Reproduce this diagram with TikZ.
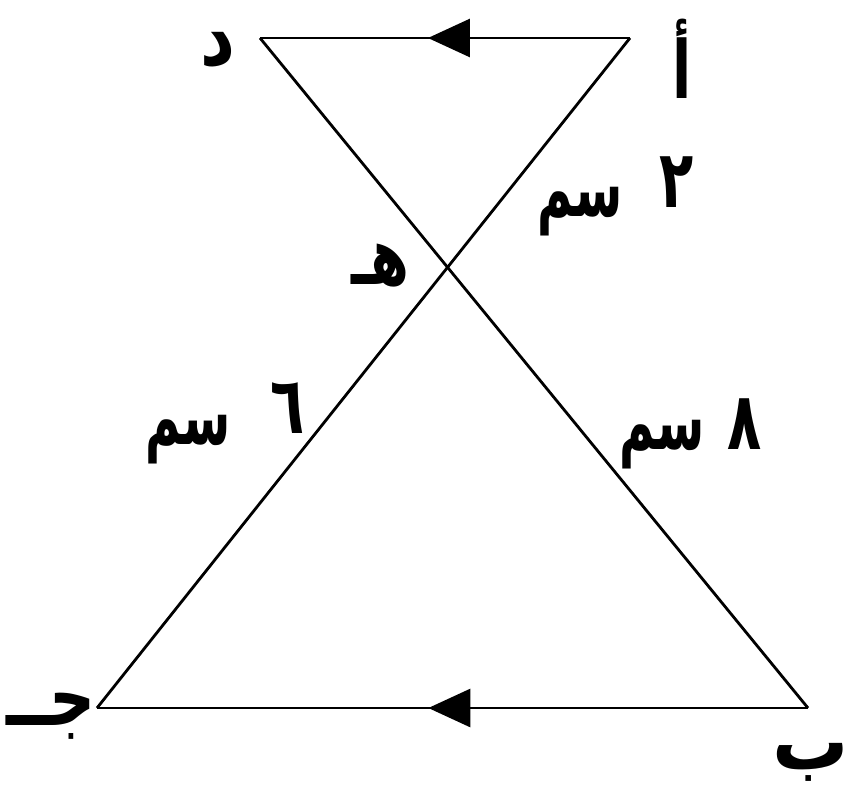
\documentclass[tikz,border=0pt]{standalone}
\usepackage{fontspec}
\usepackage{graphicx}
\TeXXeTstate=1
\newfontfamily\arabicfont[Script=Arabic]{DejaVu Sans}
\newcommand{\arlbl}[2][0.7]{\scalebox{#1}[1]{\beginR #2\endR}}
\usetikzlibrary{arrows.meta,decorations.markings}
\begin{document}
\begin{tikzpicture}[x=1pt,y=-1pt,
  seg/.style={line width=2.8pt},
  lbl/.style={inner sep=0pt,font=\arabicfont\bfseries\fontsize{80}{82}\selectfont},
  midarrow/.style={postaction={decorate},decoration={markings,
     mark=at position #1 with {\arrow{Triangle[length=42pt,width=38pt]}}}}]
\useasboundingbox (0,0) rectangle (852,800);
\coordinate (D) at (260,38);
\coordinate (A) at (630,38);
\coordinate (C) at (97,708);
\coordinate (B) at (808,708);
\coordinate (E) at (447.6,267);
\draw[seg,midarrow=0.546] (A) -- (D);
\draw[seg,midarrow=0.534] (B) -- (C);
\draw[seg] (D) -- (B);
\draw[seg] (A) -- (C);
\node[lbl] (lD) at (218,50) {\arlbl[0.85]{د}};
\node[lbl] (lA) at (682,59) {\arlbl{أ}};
\node[lbl] (lE) at (380,266) {\arlbl{هـ}};
\node[lbl] (lC) at (51,716) {\arlbl[0.8]{جــ}};
\node[lbl] (lB) at (811,762) {\arlbl[0.95]{ب}};
\node[lbl] (n2) at (677,182) {\arlbl{٢}};
\node[lbl] (s2) at (580,212) {\arlbl[0.6]{سم}};
\node[lbl] (n6) at (288,408) {\arlbl{٦}};
\node[lbl] (s6) at (188,440) {\arlbl[0.6]{سم}};
\node[lbl] (n8) at (745,424) {\arlbl{٨}};
\node[lbl] (s8) at (662,445) {\arlbl[0.6]{سم}};
\end{tikzpicture}
\end{document}
